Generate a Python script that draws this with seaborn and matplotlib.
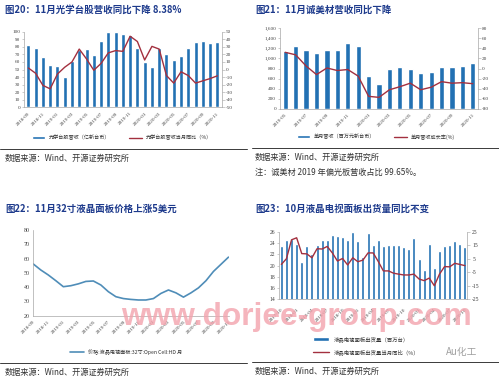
import numpy as np
import pandas as pd
import matplotlib
matplotlib.use('Agg')
import matplotlib.pyplot as plt
import seaborn as sns
from matplotlib.patches import Patch
from matplotlib.lines import Line2D

# ---------------- data ----------------
# Figure 20: optical Taiwan stocks revenue (2018-09 .. 2020-11)
p1_ticks = ['2018-09', '2018-11', '2019-01', '2019-03', '2019-05', '2019-07', '2019-09',
            '2019-11', '2020-01', '2020-03', '2020-05', '2020-07', '2020-09', '2020-11']
p1_revenue = [82, 78, 66, 56, 55, 40, 61, 76, 77, 69, 88, 100, 100, 97, 95, 78, 60, 53,
              78, 70, 63, 68, 79, 86, 88, 85, 87]
p1_yoy = [2, -5, -21, -25.6, -6, 3, 10, 27, 14, -1, 8, 22, 25, 24, 44, 37, 12.6, 30.6,
          27, -8, -18, -3, -8, -18, -15, -12, -8.38]

# Figure 21: monthly revenue (2019-05 .. 2020-11)
p2_ticks = ['2019-05', '2019-07', '2019-09', '2019-11', '2020-01', '2020-03', '2020-05',
            '2020-07', '2020-09', '2020-11']
p2_revenue = [1150, 1240, 1160, 1100, 1170, 1160, 1300, 1250, 650, 500, 790, 830, 800,
              710, 730, 820, 820, 850, 900]
p2_growth = [32, 27, 5, -12, 1, -4, -2, -15, -55, -57, -42, -36, -29, -42, -37, -26, -29,
             -28, -30]

# Figure 22: 32" open-cell HD panel price (2018-09 .. 2020-11)
p3_ticks = ['2018-09', '2018-11', '2019-01', '2019-03', '2019-05', '2019-07', '2019-09',
            '2019-11', '2020-01', '2020-03', '2020-05', '2020-07', '2020-09', '2020-11']
p3_price = [56.2, 52, 48.5, 44.5, 40.3, 41, 42.3, 44, 44.3, 41.5, 36.8, 33.3, 32, 31.4,
            31, 31, 32, 35.6, 38, 36, 33, 36, 39.5, 44.5, 51, 56, 61]

# Figure 23: LCD TV panel shipments (2017-10 .. 2020-10)
p4_ticks = ['2017-10', '2018-01', '2018-04', '2018-07', '2018-10', '2019-01', '2019-04',
            '2019-07', '2019-10', '2020-01', '2020-04', '2020-07', '2020-10']
p4_ship = [23.5, 24.5, 24.7, 23.8, 20.6, 23.5, 22.0, 23.6, 24.6, 24.6, 25.4, 25.2, 25.0,
           24.6, 26.0, 24.4, 21.5, 25.8, 23.7, 24.5, 23.4, 23.7, 23.7, 23.6, 23.3, 23.0,
           24.9, 21.2, 19.2, 23.9, 19.6, 22.5, 23.4, 23.7, 24.4, 23.9, 23.2]
p4_yoy = [0.8, 5, 19, 20.5, 8.8, 8.6, 5.7, 12.4, 12.2, 14.1, 9.3, 3.3, 5.2, 0.4, 5.7, 2.8,
          4.0, 9.3, 9.3, 3, -4, -4, -5.7, -6.4, -7, -7, -6.4, -10, -11.2, -9.3, -15, -6.4,
          -0.8, -1, 1.6, 0.8, -0.1]

titles = ['图20：11月光学台股营收同比下降 8.38%',
          '图21：11月诚美材营收同比下降',
          '图22：11月32寸液晶面板价格上涨5美元',
          '图23：10月液晶电视面板出货量同比不变']
source = '数据来源：Wind、开源证券研究所'
note21 = '注：诚美材 2019 年偏光板营收占比 99.65%。'

# ---------------- style ----------------
sns.set_theme(style='white')
plt.rcParams['font.family'] = ['Noto Sans CJK SC', 'DejaVu Sans']
plt.rcParams['axes.unicode_minus'] = False

BAR = '#2271B3'
RED = '#A3303F'
LBLUE = '#4F8DB8'
TITLE = '#1D3A8C'
SPINE = '#A6A6A6'
TXT = '#404040'
NUM = ['Liberation Serif', 'DejaVu Serif']
TS = 3.7

fig = plt.figure(figsize=(4.99, 3.80), dpi=100)
fig.patch.set_facecolor('white')


def W(px):
    return px / 499


def H(py):
    return 1 - py / 380


def axes_px(x0, x1, ytop, ybot):
    return fig.add_axes([W(x0), H(ybot), W(x1 - x0), (ybot - ytop) / 380])


def set_spines(ax, left=False, right=False, bottom=False):
    for s, v in [('left', left), ('right', right), ('bottom', bottom), ('top', False)]:
        ax.spines[s].set_visible(v)
        ax.spines[s].set_color(SPINE)
        ax.spines[s].set_linewidth(0.5)
    ax.set_facecolor('none')
    ax.set_xlabel('')
    ax.set_ylabel('')
    ax.tick_params(which='both', direction='out', length=1.8, width=0.4, color=SPINE,
                   labelcolor=TXT, pad=1)


def yticks(ax, ticks, fmt, size=TS):
    ax.set_yticks(ticks, labels=[fmt(t) for t in ticks], fontsize=size, fontfamily=NUM)


def xticks(ax, pos, labels):
    ax.set_xticks(pos, labels=labels, rotation=45, ha='right', rotation_mode='anchor',
                  fontsize=TS, fontfamily=NUM)


def legend(handles, labels, x, y, ncol, **kw):
    fig.legend(handles, labels, loc='center', bbox_to_anchor=(W(x), H(y)), ncol=ncol,
               frameon=False, fontsize=3.7, handlelength=2.6, handleheight=0.55,
               columnspacing=3.5, borderpad=0, labelcolor='#333333', **kw)


# ---------------- Figure 20 ----------------
n1 = len(p1_revenue)
ax = axes_px(24, 221.7, 31.7, 107.3)
sns.barplot(x=np.arange(n1), y=p1_revenue, ax=ax, color=BAR, width=0.55, saturation=1)
ax2 = ax.twinx()
sns.lineplot(x=np.arange(n1), y=p1_yoy, ax=ax2, color=RED, linewidth=1.0)
ax.set_xlim(-0.6, n1 - 0.4)
ax.set_ylim(0, 100)
ax2.set_ylim(-50, 50)
set_spines(ax, left=True, bottom=True)
set_spines(ax2, right=True)
yticks(ax, range(0, 101, 10), lambda t: f'{t}')
yticks(ax2, range(-50, 51, 10), lambda t: f'{t}')
xticks(ax, np.arange(0, n1, 2), p1_ticks)
legend([Patch(facecolor=BAR), Line2D([], [], color=RED, lw=1.0)],
       ['光学台股营收（亿新台币）', '光学台股营收当月同比（%）'], 122, 138, 2)

# ---------------- Figure 21 ----------------
n2 = len(p2_revenue)
ax = axes_px(280, 478, 28, 109)
sns.barplot(x=np.arange(n2), y=p2_revenue, ax=ax, color=BAR, width=0.5, saturation=1)
ax2 = ax.twinx()
sns.lineplot(x=np.arange(n2), y=p2_growth, ax=ax2, color=RED, linewidth=1.0)
ax.set_xlim(-0.5, n2 - 0.5)
ax.set_ylim(0, 1600)
ax2.set_ylim(-80, 80)
set_spines(ax, left=True, bottom=True)
set_spines(ax2, right=True)
yticks(ax, range(0, 1601, 200), lambda t: f'{t:,}')
yticks(ax2, range(-80, 81, 20), lambda t: f'{t}')
xticks(ax, np.arange(0, n2, 2), p2_ticks)
legend([Patch(facecolor=BAR), Line2D([], [], color=RED, lw=1.0)],
       ['单月营收（百万元新台币）', '单月营收成长率(%)'], 376, 137, 2)

# ---------------- Figure 22 ----------------
n3 = len(p3_price)
ax = axes_px(33.3, 228.5, 230, 315.7)
sns.lineplot(x=np.arange(n3), y=p3_price, ax=ax, color=LBLUE, linewidth=1.2)
ax.set_xlim(0, n3 - 1)
ax.set_ylim(20, 80)
set_spines(ax, left=True, bottom=True)
yticks(ax, range(20, 81, 10), lambda t: f'{t}', size=4.3)
xticks(ax, np.arange(0, n3, 2), p3_ticks)
legend([Line2D([], [], color=LBLUE, lw=1.2)],
       ['价格:液晶电视面板:32寸:Open Cell:HD 月'], 126, 352, 1)

# ---------------- Figure 23 ----------------
n4 = len(p4_ship)
ax = axes_px(279.3, 467, 231.7, 299.3)
sns.barplot(x=np.arange(n4), y=p4_ship, ax=ax, color=BAR, width=0.6, saturation=1)
ax2 = ax.twinx()
sns.lineplot(x=np.arange(n4), y=p4_yoy, ax=ax2, color=RED, linewidth=1.0)
ax.set_xlim(-0.4, n4 - 0.6)
ax.set_ylim(14, 26)
ax2.set_ylim(-25, 25)
set_spines(ax, left=True, bottom=True)
set_spines(ax2, right=True)
yticks(ax, range(14, 27, 2), lambda t: f'{t}', size=4.1)
yticks(ax2, range(-25, 26, 10), lambda t: f'{t}', size=4.1)
ax2.tick_params(axis='y', pad=2)
xticks(ax, np.arange(0, n4, 3), p4_ticks)
ax.tick_params(axis='x', pad=4)
fig.legend([Patch(facecolor=BAR), Line2D([], [], color=RED, lw=1.0)],
           ['液晶电视面板出货量（百万台）', '液晶电视面板出货量当月同比（%）'],
           loc='center left', bbox_to_anchor=(W(310), H(345.5)), ncol=1, frameon=False,
           fontsize=3.9, handlelength=3.0, handleheight=0.55, labelspacing=1.3,
           borderpad=0, labelcolor='#333333')

# ---------------- titles, rules, sources ----------------
for (x, y), t in zip([(5, 10), (255, 10), (5, 209), (255, 209)], titles):
    fig.text(W(x), H(y), t, fontsize=6.8, fontweight='bold', color=TITLE, va='center')

for x0, x1, y in [(0, 247, 149.5), (252, 499, 148), (0, 247, 363), (252, 499, 362)]:
    fig.add_artist(Line2D([W(x0), W(x1)], [H(y), H(y)], color='#3a3a3a', lw=0.7))

for x, y in [(5, 158), (255, 157), (5, 372), (255, 371)]:
    fig.text(W(x), H(y), source, fontsize=5.9, color='#333333', va='center')
fig.text(W(255), H(172), note21, fontsize=5.9, color='#333333', va='center')

# watermark and logo present in the picture
fig.text(W(121), H(325), 'www.dorjee-group.com', fontsize=22.8, fontweight='bold',
         color='#F3A3AD', alpha=0.8, va='baseline', fontfamily='Liberation Sans')
fig.text(W(446), H(352), 'Au化工', fontsize=7, color='#A0A0A0', va='center')

fig.savefig('out.png', dpi=100, facecolor='white')
